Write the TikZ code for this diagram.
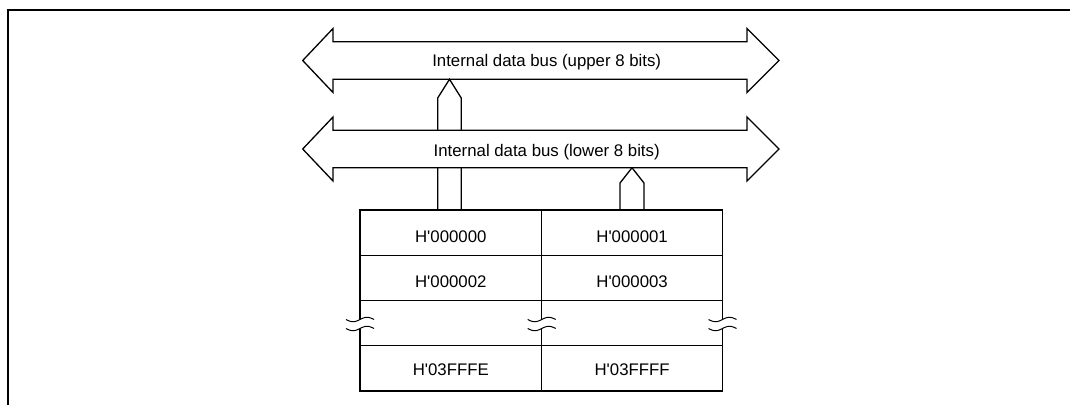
\documentclass[tikz,border=0pt]{standalone}
\usepackage{fontspec}
\setmainfont{Liberation Sans}[Ligatures=TeXOff]
\begin{document}
\begin{tikzpicture}[x=1pt,y=1pt,
  bus/.style={draw=black, line width=1.3pt, fill=white, line join=miter},
  frameline/.style={line width=2.2pt},
  outerbox/.style={draw=black, line width=1.8pt},
  innerline/.style={draw=black, line width=0.9pt},
  lbl/.style={font=\fontsize{16.8}{20}\selectfont, inner sep=0pt, anchor=base},
  squig/.style={line width=1pt}]
\useasboundingbox (0,0) rectangle (1070,-405);
% frame
\coordinate (fb) at (8,-405);
\coordinate (fc) at (8,-10);
\coordinate (fr) at (1070,-10);
\draw[frameline] (fb) -- (fc) -- (fr);
% upper bus
\draw[bus] (302.7,-60.5) -- (333,-28.5) -- (333,-41.75) -- (747,-41.75) -- (747,-28.5)
  -- (779,-60.5) -- (747,-92.5) -- (747,-79.25) -- (333,-79.25) -- (333,-92.5) -- cycle;
% up arrow to upper bus
\draw[bus] (437.7,-210) -- (437.7,-98) -- (449.5,-79.25) -- (461.2,-98) -- (461.2,-210);
% lower bus
\draw[bus] (302.7,-149) -- (333,-117) -- (333,-130.25) -- (747,-130.25) -- (747,-117)
  -- (779,-149) -- (747,-181) -- (747,-167.75) -- (333,-167.75) -- (333,-181) -- cycle;
% up arrow to lower bus
\draw[bus] (620,-210) -- (620,-183) -- (632,-167.75) -- (644,-183) -- (644,-210);
% labels
\node[lbl] (ub) at (546.7,-66.7) {Internal data bus (upper 8 bits)};
\node[lbl] (lb) at (546.7,-156.7) {Internal data bus (lower 8 bits)};
% memory box
\draw[innerline] (360,-255) -- (722.5,-255);
\draw[innerline] (360,-300) -- (722.5,-300);
\draw[innerline] (360,-345.7) -- (722.5,-345.7);
\draw[innerline] (541.7,-210) -- (541.7,-390.7);
\draw[outerbox] (360,-210) rectangle (722.5,-390.7);
\node[lbl] (a0) at (450.8,-242.5) {H'000000};
\node[lbl] (a1) at (632.1,-242.5) {H'000001};
\node[lbl] (a2) at (450.8,-287.5) {H'000002};
\node[lbl] (a3) at (632.1,-287.5) {H'000003};
\node[lbl] (a4) at (450.8,-375.3) {H'03FFFE};
\node[lbl] (a5) at (632.1,-375.3) {H'03FFFF};
% break marks
\foreach \cx in {360,541.7,722.5}{
  \fill[white] plot[domain=-14:14, samples=40, smooth] ({\cx+\x},{-319.5+2.2*sin(\x/14*180)})
    -- plot[domain=14:-14, samples=40, smooth] ({\cx+\x},{-328.5+2.2*sin(\x/14*180)}) -- cycle;
  \draw[squig] plot[domain=-14:14, samples=40, smooth] ({\cx+\x},{-319.5+2.2*sin(\x/14*180)});
  \draw[squig] plot[domain=-14:14, samples=40, smooth] ({\cx+\x},{-328.5+2.2*sin(\x/14*180)});
}
\end{tikzpicture}
\end{document}
